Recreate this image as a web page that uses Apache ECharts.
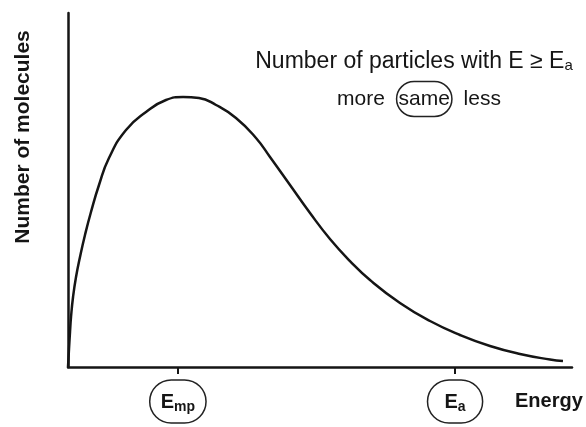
<!DOCTYPE html>
<html>
<head>
<meta charset="utf-8">
<script src="https://cdn.jsdelivr.net/npm/echarts@6/dist/echarts.min.js"></script>
<style>
html,body{margin:0;padding:0;background:#fff;}
#chart{width:586px;height:427px;}
</style>
</head>
<body>
<div id="chart"></div>
<script>
// Energy (relative units, 0-100 along the axis)
const energy = [0, 0.2, 0.4, 0.6, 1.0, 1.59, 2.38, 3.37, 4.56, 6.15, 8.13, 11.51, 15.48, 19.44, 22.82, 25.99, 29.37, 33.33, 37.30, 40.08, 44.05, 48.02, 51.98, 55.95, 59.92, 65.87, 71.83, 77.78, 83.73, 89.68, 95.63, 98.21];
// Number of molecules (relative units, 0-100)
const molecules = [0, 5.08, 9.89, 14.12, 19.77, 25.42, 31.07, 37.29, 43.79, 51.41, 59.04, 66.95, 72.03, 75.42, 76.27, 75.99, 74.01, 70.34, 64.69, 59.32, 51.41, 43.50, 36.16, 29.94, 24.58, 18.08, 12.99, 9.04, 5.93, 3.67, 2.12, 1.69];
// Marked energies on the x axis and their subscripts
const markedEnergies = [21.8, 76.8];
const markedSubscripts = ['mp', 'a'];

const FONT = '"Liberation Sans", Arial, Helvetica, sans-serif';
const INK = '#151515';

const chart = echarts.init(document.getElementById('chart'), null, {renderer: 'canvas'});
const option = {
  animation: false,
  backgroundColor: '#ffffff',
  grid: {left: 68, right: 14, top: 13, bottom: 60},
  xAxis: {
    type: 'value', min: 0, max: 100,
    splitLine: {show: false},
    axisLine: {show: true, lineStyle: {color: INK, width: 2.5}},
    axisTick: {show: true, customValues: markedEnergies, length: 7, lineStyle: {color: INK, width: 2}},
    axisLabel: {
      show: true,
      customValues: markedEnergies,
      margin: 13,
      formatter: function (v) {
        let i = 0, best = Infinity;
        markedEnergies.forEach(function (m, k) { if (Math.abs(m - v) < best) { best = Math.abs(m - v); i = k; } });
        const sub = markedSubscripts[i];
        return sub.length > 1 ? '{e|E}{s|' + sub + '}' : '{p|}{e|E}{s|' + sub + '}{p|}';
      },
      borderColor: '#222', borderWidth: 1.5, borderRadius: 24,
      padding: [10, 11, 9, 11],
      color: INK, fontFamily: FONT,
      rich: {
        e: {fontSize: 20, fontWeight: 'bold', fontFamily: FONT, color: INK, lineHeight: 24},
        s: {fontSize: 14, fontWeight: 'bold', fontFamily: FONT, color: INK, lineHeight: 13, verticalAlign: 'bottom'},
        p: {width: 6}
      }
    }
  },
  yAxis: {
    type: 'value', min: 0, max: 100,
    splitLine: {show: false},
    axisLine: {show: true, lineStyle: {color: INK, width: 2.5}},
    axisTick: {show: false},
    axisLabel: {show: false}
  },
  graphic: [
    {
      type: 'text', x: 414, y: 62,
      style: {
        text: 'Number of particles with E \u2265 E{s|a}',
        fontSize: 23, fontFamily: FONT, fill: INK,
        align: 'center', verticalAlign: 'middle',
        rich: {s: {fontSize: 15, fontFamily: FONT, fill: INK, lineHeight: 14, verticalAlign: 'bottom'}}
      }
    },
    {
      type: 'text', x: 419, y: 99,
      style: {
        text: 'more  {c|same}  less',
        fontSize: 21, fontFamily: FONT, fill: INK,
        align: 'center', verticalAlign: 'middle',
        rich: {c: {fontSize: 21, fontFamily: FONT, fill: INK, borderColor: '#222', borderWidth: 1.5, borderRadius: 18, padding: [7, 2, 7, 2]}}
      }
    },
    {
      type: 'text', x: 515, y: 401,
      style: {text: 'Energy', fontSize: 20, fontWeight: 'bold', fontFamily: FONT, fill: INK, align: 'left', verticalAlign: 'middle'}
    },
    {
      type: 'text', x: 23, y: 137, rotation: Math.PI / 2,
      style: {text: 'Number of molecules', fontSize: 21, fontWeight: 'bold', fontFamily: FONT, fill: INK, align: 'center', verticalAlign: 'middle'}
    }
  ],
  series: [{
    type: 'line',
    data: energy.map(function (e, i) { return [e, molecules[i]]; }),
    smooth: 0.5,
    symbol: 'none',
    lineStyle: {color: INK, width: 2.5}
  }]
};
chart.setOption(option);
</script>
</body>
</html>
